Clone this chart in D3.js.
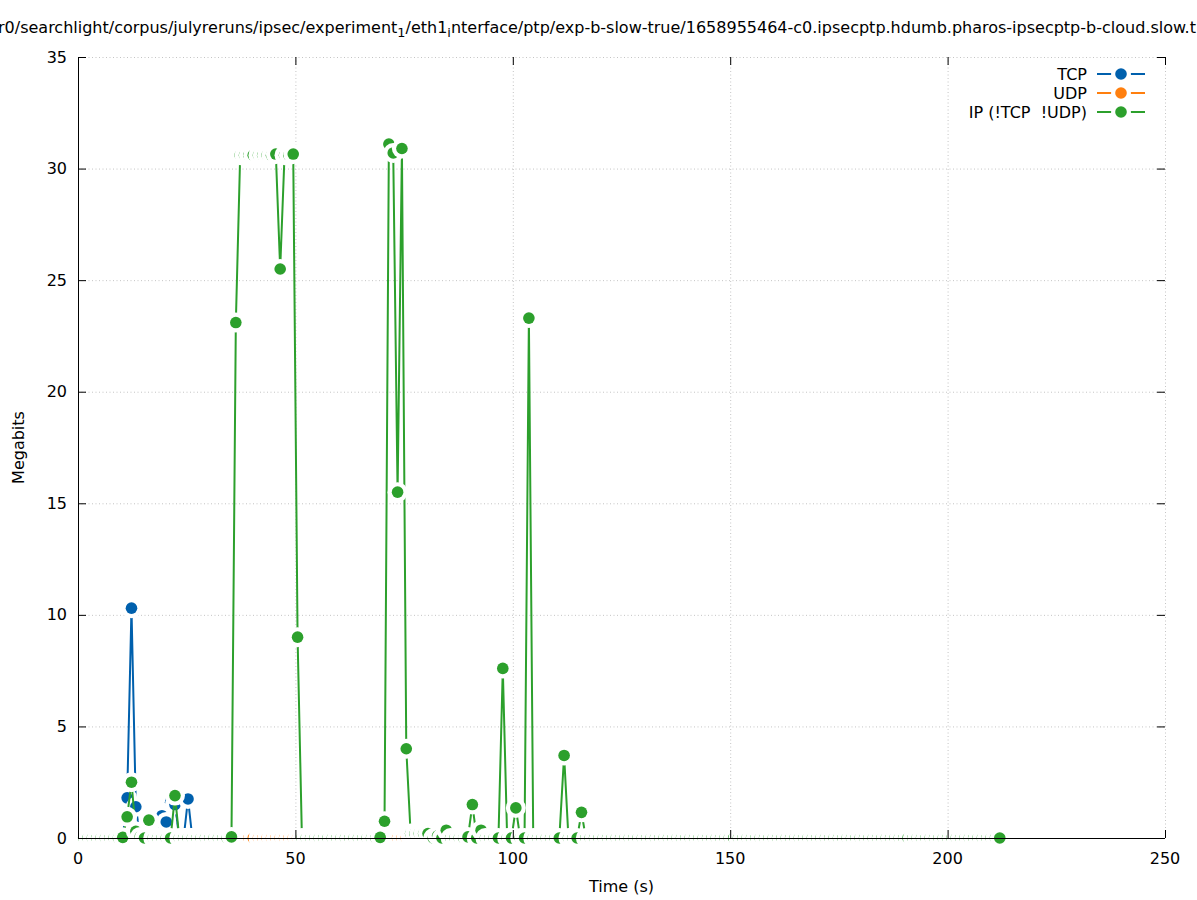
<!DOCTYPE html>
<html><head><meta charset="utf-8">
<script src="https://cdn.jsdelivr.net/npm/d3@7"></script>
<style>body{margin:0;background:#fff}svg text{font-family:"DejaVu Sans",sans-serif;font-size:16px;fill:#000;white-space:pre}</style>
</head><body><svg id="c" width="1197" height="900"></svg>
<script>
// sample instants (s), one per second index 1..211
const sampleTimes = [
 1.3,2.3,3.3,4.3,5.3,6.3,7.3,8.3,9.3,10.3,11.3,12.3,13.3,14.3,15.3,16.3,17.3,18.3,19.3,20.3,
 21.3,22.3,23.3,24.3,25.3,26.3,27.3,28.3,29.3,30.3,31.3,32.3,33.3,34.3,35.3,36.3,37.3,38.3,39.3,40.3,
 41.5,42.5,43.5,44.5,45.5,46.5,47.5,48.5,49.5,50.5,51.5,52.5,53.5,54.5,55.5,56.5,57.5,58.5,59.5,60.5,
 61.5,62.5,63.5,64.5,65.5,66.5,67.5,68.5,69.5,70.5,71.5,72.5,73.5,74.5,75.5,76.5,77.5,78.5,79.5,80.5,
 81.7,82.7,83.7,84.7,85.7,86.7,87.7,88.7,89.7,90.7,91.7,92.7,93.7,94.7,95.7,96.7,97.7,98.7,99.7,100.7,
 101.7,102.7,103.7,104.7,105.7,106.7,107.7,108.7,109.7,110.7,111.8,112.8,113.8,114.8,115.8,116.8,117.8,118.8,119.8,120.8,
 121.8,122.8,123.8,124.8,125.8,126.8,127.8,128.8,129.8,130.8,131.8,132.8,133.8,134.8,135.8,136.8,137.8,138.8,139.8,140.8,
 141.8,142.8,143.8,144.8,145.8,146.8,147.8,148.8,149.8,150.8,151.9,152.9,153.9,154.9,155.9,156.9,157.9,158.9,159.9,160.9,
 161.9,162.9,163.9,164.9,165.9,166.9,167.9,168.9,169.9,170.9,171.9,172.9,173.9,174.9,175.9,176.9,177.9,178.9,179.9,180.9,
 181.9,182.9,183.9,184.9,185.9,186.9,187.9,188.9,189.9,190.9,192,193,194,195,196,197,198,199,200,201,
 202,203,204,205,206,207,208,209,210,211,212
];
// non-zero samples per series: [second index, megabits]; every other sample is 0
const tcpNonZero = [[11,1.8],[12,10.3],[13,1.4],[19,1.0],[20,0.72],[21,1.6],[22,1.5],[25,1.75]];
const udpNonZero = [];
const ipNonZero = [[10,0.03],[11,0.95],[12,2.5],[13,0.3],[14,0.05],[16,0.8],[22,1.9],
 [35,0.05],[36,23.1],[37,30.6],[38,30.6],[39,30.6],[40,30.6],[41,30.6],[42,30.6],[43,30.6],[44,30.6],
 [45,30.65],[46,25.5],[47,30.6],[48,30.6],[49,30.65],[50,9.0],
 [69,0.03],[70,0.75],[71,31.1],[72,30.7],[73,15.5],[74,30.9],[75,4.0],[76,0.2],[77,0.2],[78,0.2],[79,0.2],[80,0.2],
 [82,0.1],[84,0.35],[89,0.05],[90,1.5],[92,0.35],[97,7.6],[100,1.35],[103,23.3],[111,3.7],[115,1.15]];
const seriesNames = ["TCP","UDP","IP (!TCP  !UDP)"];
const seriesColors = ["#0060ad","#ff7f0e","#2ca02c"];
const xTicks = [0,50,100,150,200,250];
const yTicks = [0,5,10,15,20,25,30,35];
const titleParts = [
 ["r0/searchlight/corpus/julyreruns/ipsec/experiment",false],["1",true],["/eth1",false],["i",true],
 ["nterface/ptp/exp-b-slow-true/1658955464-c0.ipsecptp.hdumb.pharos-ipsecptp-b-cloud.slow.t",false]];

function buildSeries(nz){
  const m = new Map(nz);
  return sampleTimes.map((t,i)=>({t, v: m.has(i+1)? m.get(i+1) : 0}));
}
const series = [tcpNonZero, udpNonZero, ipNonZero].map(buildSeries);

const svg = d3.select("#c");
const L=78,R=1165,T=57,B=838;
const x = d3.scaleLinear().domain([0,250]).range([L,R]);
const y = d3.scaleLinear().domain([0,35]).range([B,T]);
const rDot=5.8, rHalo=10;

// grid
const g = svg.append("g").attr("stroke","#c4c4c4").attr("stroke-width",1).attr("stroke-dasharray","1,2.5");
g.selectAll(".gx").data(xTicks).join("line").attr("x1",d=>x(d)+0.5).attr("x2",d=>x(d)+0.5).attr("y1",T).attr("y2",B);
g.selectAll(".gy").data(yTicks).join("line").attr("y1",d=>y(d)+0.5).attr("y2",d=>y(d)+0.5).attr("x1",L).attr("x2",R);

// series
const line = d3.line().x(d=>x(d.t)).y(d=>y(d.v));
series.forEach((s,i)=>{
  const sg = svg.append("g");
  sg.append("path").attr("d",line(s)).attr("fill","none").attr("stroke",seriesColors[i]).attr("stroke-width",2).attr("stroke-linejoin","miter");
  s.forEach(d=>{
    sg.append("circle").attr("cx",x(d.t)).attr("cy",y(d.v)).attr("r",rHalo).attr("fill","#fff");
    sg.append("circle").attr("cx",x(d.t)).attr("cy",y(d.v)).attr("r",rDot).attr("fill",seriesColors[i]);
  });
});

// legend (opaque key)
svg.append("rect").attr("x",950).attr("y",62).attr("width",208).attr("height",60).attr("fill","#fff");
seriesNames.forEach((n,i)=>{
  const yy = 74 + i*19;
  svg.append("text").attr("x",1087).attr("y",yy).attr("dy","0.35em").attr("text-anchor","end").attr("xml:space","preserve").text(n);
  svg.append("line").attr("x1",1097).attr("x2",1145).attr("y1",yy).attr("y2",yy).attr("stroke",seriesColors[i]).attr("stroke-width",2);
  svg.append("circle").attr("cx",1121).attr("cy",yy).attr("r",rHalo).attr("fill","#fff");
  svg.append("circle").attr("cx",1121).attr("cy",yy).attr("r",rDot).attr("fill",seriesColors[i]);
});

// axes / border (front)
const ax = svg.append("g").attr("stroke","#000").attr("stroke-width",1);
ax.append("line").attr("x1",L).attr("x2",R).attr("y1",B+0.5).attr("y2",B+0.5);
ax.append("line").attr("x1",L+0.5).attr("x2",L+0.5).attr("y1",T).attr("y2",B);
const tk=8;
xTicks.forEach(d=>{
  ax.append("line").attr("x1",x(d)+0.5).attr("x2",x(d)+0.5).attr("y1",B).attr("y2",B-tk);
  ax.append("line").attr("x1",x(d)+0.5).attr("x2",x(d)+0.5).attr("y1",T).attr("y2",T+tk);
});
yTicks.forEach(d=>{
  ax.append("line").attr("y1",y(d)+0.5).attr("y2",y(d)+0.5).attr("x1",L).attr("x2",L+tk);
  ax.append("line").attr("y1",y(d)+0.5).attr("y2",y(d)+0.5).attr("x1",R).attr("x2",R-tk);
});
svg.selectAll(".xl").data(xTicks).join("text").attr("x",d=>x(d)).attr("y",B+20).attr("dy","0.35em").attr("text-anchor","middle").text(d=>d);
svg.selectAll(".yl").data(yTicks).join("text").attr("x",L-11).attr("y",d=>y(d)).attr("dy","0.35em").attr("text-anchor","end").text(d=>d);
svg.append("text").attr("x",(L+R)/2).attr("y",892).attr("text-anchor","middle").text("Time (s)");
svg.append("text").attr("transform",`translate(24,${(T+B)/2}) rotate(-90)`).attr("text-anchor","middle").text("Megabits");

// title
const tt = svg.append("text").attr("x",-2).attr("y",33).attr("text-anchor","start");
titleParts.forEach(([s,sub])=>{
  const sp = tt.append("tspan").text(s);
  if(sub) sp.attr("font-size","12.8px").attr("dy","4");
  else sp.attr("dy", tt.selectAll("tspan").size()>1 ? "-4" : "0");
});
</script></body></html>
